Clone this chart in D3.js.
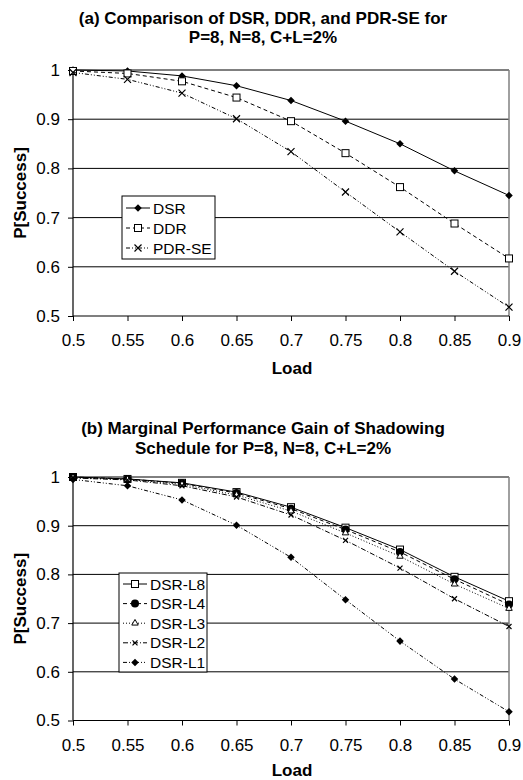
<!DOCTYPE html>
<html>
<head>
<meta charset="utf-8">
<script src="https://cdn.jsdelivr.net/npm/d3@7"></script>
<style>
  body { margin: 0; background: #fff; }
  text { font-family: "Liberation Sans", Arial, sans-serif; fill: #000; }
</style>
</head>
<body>
<div id="chart"></div>
<script>
// x values (load) shared by both panels
var loads = [0.5, 0.55, 0.6, 0.65, 0.7, 0.75, 0.8, 0.85, 0.9];
var xTicks = [0.5, 0.55, 0.6, 0.65, 0.7, 0.75, 0.8, 0.85, 0.9];
var yTicks = [0.5, 0.6, 0.7, 0.8, 0.9, 1];

// panel (a)
var dsr   = [1.0, 0.998, 0.988, 0.968, 0.938, 0.896, 0.850, 0.795, 0.745];
var ddr   = [0.998, 0.993, 0.977, 0.944, 0.896, 0.831, 0.762, 0.688, 0.617];
var pdrse = [0.995, 0.981, 0.953, 0.901, 0.834, 0.752, 0.671, 0.591, 0.518];

// panel (b)
var dsrL8 = [1.0, 0.996, 0.988, 0.969, 0.938, 0.896, 0.851, 0.795, 0.745];
var dsrL4 = [1.0, 0.996, 0.987, 0.967, 0.935, 0.892, 0.846, 0.790, 0.738];
var dsrL3 = [0.999, 0.995, 0.985, 0.963, 0.930, 0.885, 0.837, 0.780, 0.730];
var dsrL2 = [0.998, 0.994, 0.982, 0.959, 0.922, 0.870, 0.813, 0.750, 0.693];
var dsrL1 = [0.995, 0.982, 0.953, 0.901, 0.835, 0.748, 0.663, 0.585, 0.518];

var svg = d3.select("#chart").append("svg")
    .attr("width", 523)
    .attr("height", 780);

function marker(g, type, x, y) {
    if (type == "diamond") {
        g.append("path").attr("d", d3.symbol(d3.symbolDiamond2, 36)())
            .attr("transform", "translate(" + x + "," + y + ")")
            .attr("fill", "#000");
    } else if (type == "square") {
        g.append("rect").attr("x", x - 3.5).attr("y", y - 3.5)
            .attr("width", 7).attr("height", 7)
            .attr("fill", "#fff").attr("stroke", "#000").attr("stroke-width", 1);
    } else if (type == "cross" || type == "smallcross") {
        var s = type == "cross" ? 3.5 : 2.5;
        g.append("path")
            .attr("d", "M" + (x - s) + "," + (y - s) + "L" + (x + s) + "," + (y + s) +
                       "M" + (x - s) + "," + (y + s) + "L" + (x + s) + "," + (y - s))
            .attr("stroke", "#000").attr("stroke-width", 1.2);
    } else if (type == "circle") {
        g.append("circle").attr("cx", x).attr("cy", y).attr("r", 4).attr("fill", "#000");
    } else if (type == "triangle") {
        g.append("path").attr("d", d3.symbol(d3.symbolTriangle2, 30)())
            .attr("transform", "translate(" + x + "," + y + ")")
            .attr("fill", "#fff").attr("stroke", "#000").attr("stroke-width", 1);
    }
}

function panel(opts) {
    var x = d3.scaleLinear().domain([0.5, 0.9]).range([73, 509]);
    var y = d3.scaleLinear().domain([0.5, 1]).range([opts.bottom, opts.top]);
    var g = svg.append("g");

    // title, one text element with a line per tspan
    var title = g.append("text").attr("text-anchor", "middle")
        .style("font-size", "17px").style("font-weight", "bold");
    opts.title.forEach(function (t, i) {
        title.append("tspan").attr("x", 263).attr("y", opts.titleY[i]).text(t);
    });

    // gridlines
    g.selectAll(".grid").data(yTicks.slice(1)).enter().append("line")
        .attr("x1", 73).attr("x2", 509)
        .attr("y1", d => y(d)).attr("y2", d => y(d))
        .attr("stroke", "#000").attr("stroke-width", 1);
    // right border
    g.append("line").attr("x1", 509).attr("x2", 509)
        .attr("y1", opts.top).attr("y2", opts.bottom)
        .attr("stroke", "#808080").attr("stroke-width", 1.5);

    // axes
    var xAxis = g.append("g").attr("transform", "translate(0," + opts.bottom + ")")
        .call(d3.axisBottom(x).tickValues(xTicks).tickSize(5).tickPadding(13)
            .tickFormat(d => String(+d.toFixed(2))));
    var yAxis = g.append("g").attr("transform", "translate(73,0)")
        .call(d3.axisLeft(y).tickValues(yTicks).tickSize(5).tickPadding(8)
            .tickFormat(d => String(+d.toFixed(1))));
    [xAxis, yAxis].forEach(function (a) {
        a.select(".domain").attr("stroke", "#000").attr("stroke-width", 1.2);
        a.selectAll(".tick line").attr("stroke", "#000");
        a.selectAll("text").style("font-size", "17px").attr("fill", "#000")
            .style("font-family", "'Liberation Sans', Arial, sans-serif");
    });
    xAxis.select(".domain").attr("d", "M73,0H509");
    yAxis.select(".domain").attr("d", "M0," + opts.bottom + "V" + opts.top);

    g.append("text").attr("x", 292).attr("y", opts.bottom + opts.loadDy)
        .attr("text-anchor", "middle")
        .style("font-size", "17px").style("font-weight", "bold").text("Load");
    g.append("text")
        .attr("transform", "translate(26," + ((opts.top + opts.bottom) / 2) + ") rotate(-90)")
        .attr("text-anchor", "middle")
        .style("font-size", "17px").style("font-weight", "bold").text("P[Success]");

    // series
    var line = d3.line().x((d, i) => x(loads[i])).y(d => y(d));
    opts.series.forEach(function (s) {
        g.append("path").datum(s.values)
            .attr("d", line)
            .attr("fill", "none").attr("stroke", "#000").attr("stroke-width", 1)
            .attr("stroke-dasharray", s.dash);
        s.values.forEach(function (v, i) {
            marker(g, s.marker, x(loads[i]), y(v));
        });
    });

    // legend
    var L = opts.legend;
    var lg = g.append("g");
    lg.append("rect").attr("x", L.x).attr("y", L.y).attr("width", L.w).attr("height", L.h)
        .attr("fill", "#fff").attr("stroke", "#000").attr("stroke-width", 1);
    opts.series.forEach(function (s, i) {
        var yy = L.y + L.first + i * L.step;
        lg.append("line").attr("x1", L.x + 4).attr("x2", L.x + 28)
            .attr("y1", yy).attr("y2", yy)
            .attr("stroke", "#000").attr("stroke-width", 1)
            .attr("stroke-dasharray", s.dash);
        marker(lg, s.marker, L.x + 16, yy);
        lg.append("text").attr("x", L.x + 31).attr("y", yy + 5.5)
            .style("font-size", "15.5px").text(s.name);
    });
}

panel({
    top: 70, bottom: 316, loadDy: 58,
    title: ["(a) Comparison of DSR, DDR, and PDR-SE for", "P=8, N=8, C+L=2%"],
    titleY: [24, 43],
    series: [
        { name: "DSR", values: dsr, marker: "diamond", dash: null },
        { name: "DDR", values: ddr, marker: "square", dash: "4,3" },
        { name: "PDR-SE", values: pdrse, marker: "cross", dash: "4,2,1,2,1,2" }
    ],
    legend: { x: 122, y: 196, w: 93, h: 63, first: 12, step: 20 }
});

panel({
    top: 477, bottom: 720.5, loadDy: 55.5,
    title: ["(b) Marginal Performance Gain of Shadowing", "Schedule for P=8, N=8, C+L=2%"],
    titleY: [434, 453.5],
    series: [
        { name: "DSR-L8", values: dsrL8, marker: "square", dash: null },
        { name: "DSR-L4", values: dsrL4, marker: "circle", dash: "4,3" },
        { name: "DSR-L3", values: dsrL3, marker: "triangle", dash: "1,2" },
        { name: "DSR-L2", values: dsrL2, marker: "smallcross", dash: "5,2,1,2" },
        { name: "DSR-L1", values: dsrL1, marker: "diamond", dash: "4,2,1,2,1,2" }
    ],
    legend: { x: 119, y: 573, w: 88, h: 99, first: 11, step: 19.6 }
});
</script>
</body>
</html>
